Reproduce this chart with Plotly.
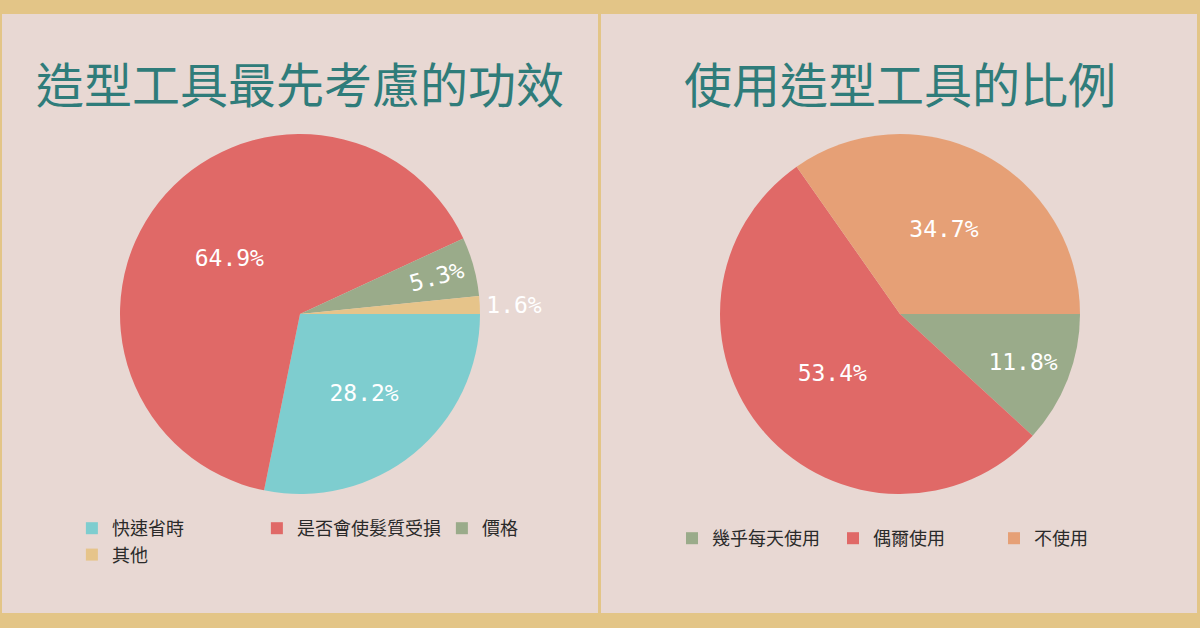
import plotly.graph_objects as go

# ── data ──────────────────────────────────────────────────────────────────────
LEFT_TITLE = "造型工具最先考慮的功效"
LEFT_LABELS = ["快速省時", "是否會使髮質受損", "價格", "其他"]
LEFT_VALUES = [28.2, 64.9, 5.3, 1.6]

RIGHT_TITLE = "使用造型工具的比例"
RIGHT_LABELS = ["幾乎每天使用", "偶爾使用", "不使用"]
RIGHT_VALUES = [11.8, 53.4, 34.7]

LEFT_COLORS = ["#7ECDCF", "#E06967", "#9AAB8A", "#E6C48A"]
RIGHT_COLORS = ["#9AAB8A", "#E06967", "#E6A076"]

GOLD = "#E3C587"
PANEL = "#E8D8D3"
TEAL = "#2F7C7A"
CJK = "Noto Sans CJK TC, Noto Sans CJK SC, sans-serif"

W, H = 1200, 628
ML = 72          # left margin (left legend sits just outside the plot area)
PW = W - ML      # plot width


def px(p):
    return (p - ML) / PW


def py(p):
    return 1 - p / H


fig = go.Figure()

label_font = dict(family="DejaVu Sans Mono", size=23, color="#FFFFFF")
pie_style = dict(sort=False, direction="clockwise", rotation=90,
                 texttemplate="%{value}%",
                 insidetextfont=label_font, outsidetextfont=label_font,
                 hoverinfo="label+value", marker_line_width=0)

fig.add_trace(go.Pie(labels=LEFT_LABELS, values=LEFT_VALUES,
                     marker_colors=LEFT_COLORS, legend="legend",
                     textposition=["inside", "inside", "inside", "outside"],
                     domain=dict(x=[px(120), px(480)], y=[py(494), py(134)]),
                     **pie_style))
fig.add_trace(go.Pie(labels=RIGHT_LABELS, values=RIGHT_VALUES,
                     marker_colors=RIGHT_COLORS, legend="legend2",
                     textposition="inside",
                     domain=dict(x=[px(720), px(1080)], y=[py(494), py(134)]),
                     **pie_style))

# frame: gold strips + divider
shapes = []
for x0, y0, x1, y1 in [(0, 0, W, 14), (0, 613, W, H), (0, 0, 2, H),
                       (W - 3, 0, W, H), (598, 0, 601, H)]:
    shapes.append(dict(type="rect", xref="paper", yref="paper",
                       x0=px(x0), x1=px(x1), y0=py(y1), y1=py(y0),
                       fillcolor=GOLD, line_width=0, layer="below"))

annotations = [
    dict(text=LEFT_TITLE, x=px(300), y=py(82), xref="paper", yref="paper",
         showarrow=False, xanchor="center", yanchor="middle",
         font=dict(family=CJK, size=48, color=TEAL)),
    dict(text=RIGHT_TITLE, x=px(900), y=py(82), xref="paper", yref="paper",
         showarrow=False, xanchor="center", yanchor="middle",
         font=dict(family=CJK, size=48, color=TEAL)),
]

legend_font = dict(family=CJK, size=18, color="#2A2A2A")

fig.update_layout(
    width=W, height=H,
    margin=dict(l=ML, r=0, t=0, b=0, autoexpand=False),
    paper_bgcolor=PANEL, plot_bgcolor=PANEL,
    shapes=shapes, annotations=annotations,
    legend=dict(orientation="h", x=-0.0001, xanchor="left", y=py(510), yanchor="top",
                entrywidth=140, entrywidthmode="pixels",
                font=legend_font, bgcolor="rgba(0,0,0,0)"),
    legend2=dict(orientation="h", x=px(672), xanchor="left", y=py(520), yanchor="top",
                 entrywidth=116, entrywidthmode="pixels",
                 font=legend_font, bgcolor="rgba(0,0,0,0)"),
)

fig.write_html("out.html", config={"displayModeBar": False},
               post_script="document.body.style.margin='0';")
